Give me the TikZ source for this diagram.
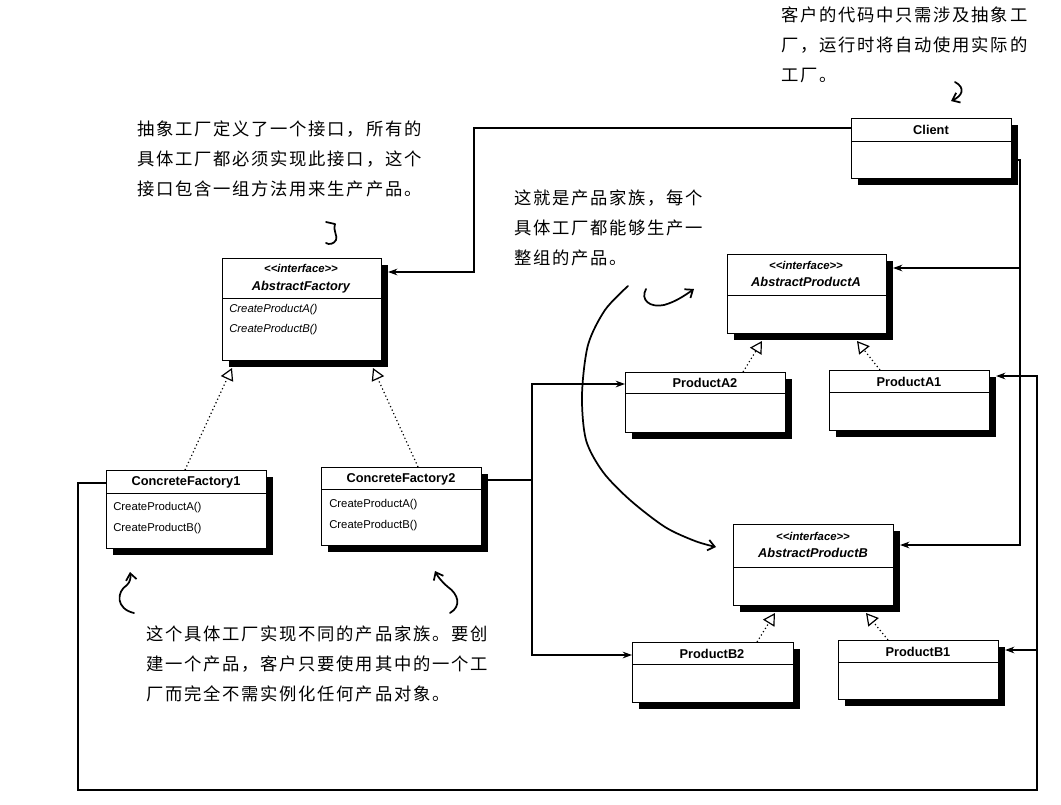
\documentclass[tikz,border=0pt]{standalone}
\usepackage{fontspec}
\setmainfont{Liberation Sans}
\newfontfamily\hw[LetterSpace=10]{Noto Sans CJK SC}
\usetikzlibrary{arrows.meta,shadows,calc}

\tikzset{
 umlbox/.style={draw, fill=white, line width=0.8pt, inner sep=0pt, anchor=north west,
   drop shadow={shadow xshift=4.5pt, shadow yshift=-4.5pt, fill=black, opacity=1}},
 divline/.style={line width=0.6pt},
 ttl/.style={font=\fontsize{9.6}{10}\selectfont\bfseries, inner sep=0pt},
 ittl/.style={font=\fontsize{9.6}{10}\selectfont\bfseries\itshape, inner sep=0pt},
 stereo/.style={font=\fontsize{8.5}{9}\selectfont\bfseries\itshape, inner sep=0pt},
 meth/.style={font=\fontsize{8.5}{9}\selectfont, inner sep=0pt, anchor=west},
 imeth/.style={font=\fontsize{8.5}{9}\selectfont\itshape, inner sep=0pt, anchor=west},
 arr/.style={line width=1pt, -{Stealth[length=7pt,width=5pt]}},
 conn/.style={line width=1pt},
 real/.style={line width=0.9pt, dotted, -{Triangle[length=9pt,width=10pt,fill=white]}},
 note/.style={font=\hw\fontsize{13}{22.5}\selectfont, align=left, anchor=north west, inner sep=0pt},
 hand/.style={line width=1.3pt, line cap=round, line join=round},
 handarr/.style={hand, -{Straight Barb[length=5pt,width=8pt]}},
}

\newcommand{\ubox}[6]{%
  \node[umlbox, minimum width=#4*0.75pt, minimum height=#5*0.75pt] (#1) at (#2,#3) {};
  \draw[divline] ([yshift=-#6*0.75pt]#1.north west) -- ([yshift=-#6*0.75pt]#1.north east);
}
\newcommand{\stereotxt}{<\kern0pt<interface>\kern0pt>}

\begin{document}
\begin{tikzpicture}[x=0.75pt,y=-0.75pt]
\useasboundingbox (0,0) rectangle (1061,804);

% ---------- boxes ----------
\ubox{client}{851}{118}{160}{60}{23}
\ubox{af}{222}{258}{159}{102}{40}
\ubox{apa}{727}{254}{159}{79}{41}
\ubox{pa2}{625}{372}{160}{60}{21}
\ubox{pa1}{829}{370}{160}{60}{22}
\ubox{cf1}{106}{470}{160}{78}{23}
\ubox{cf2}{321}{467}{160}{78}{22}
\ubox{apb}{733}{524}{160}{81}{43}
\ubox{pb2}{632}{642}{161}{60}{22}
\ubox{pb1}{838}{640}{160}{59}{22}

% ---------- box texts ----------
\node[ttl] (tclient) at (931,130) {Client};
\node[stereo] (saf) at (301,268) {\stereotxt};
\node[ittl] (taf) at (301,287) {AbstractFactory};
\node[imeth] (maf1) at (229,310) {CreateProductA()};
\node[imeth] (maf2) at (229,330) {CreateProductB()};
\node[stereo] (sapa) at (806,265) {\stereotxt};
\node[ittl] (tapa) at (806,282) {AbstractProductA};
\node[ttl] (tpa2) at (705,383) {ProductA2};
\node[ttl] (tpa1) at (909,382) {ProductA1};
\node[ttl] (tcf1) at (186,482) {ConcreteFactory1};
\node[meth] (mcf11) at (113,508) {CreateProductA()};
\node[meth] (mcf12) at (113,529) {CreateProductB()};
\node[ttl] (tcf2) at (401,479) {ConcreteFactory2};
\node[meth] (mcf21) at (329,505) {CreateProductA()};
\node[meth] (mcf22) at (329,526) {CreateProductB()};
\node[stereo] (sapb) at (813,536) {\stereotxt};
\node[ittl] (tapb) at (813,553) {AbstractProductB};
\node[ttl] (tpb2) at (712,654) {ProductB2};
\node[ttl] (tpb1) at (918,652) {ProductB1};

% ---------- shadow-edge coordinates ----------
\coordinate (afR) at ([xshift=4.5pt]af.east);
\coordinate (apaR) at ([xshift=4.5pt]apa.east);
\coordinate (apbR) at ([xshift=4.5pt]apb.east);
\coordinate (pa1R) at ([xshift=4.5pt]pa1.east);
\coordinate (pb1R) at ([xshift=4.5pt]pb1.east);
\coordinate (cf2R) at ([xshift=4.5pt]cf2.east);
\coordinate (clR) at ([xshift=4.5pt]client.east);

% ---------- association connectors ----------
\draw[arr] (client.west |- 0,128) -- (474,128) -- (474,272) -- (afR |- 0,272);
\coordinate (jc) at (1020,268);
\draw[arr] (clR |- 0,160) -- (1020,160) -- (1020,545) -- (apbR |- 0,545);
\draw[arr] (jc) -- (apaR |- jc);

\coordinate (jf) at (1037,650);
\draw[arr] (cf1.west |- 0,483) -- (78,483) -- (78,790) -- (1037,790) -- (1037,376) -- (pa1R |- 0,376);
\draw[arr] (jf) -- (pb1R |- jf);

\coordinate (jg) at (532,480);
\draw[conn] (cf2R |- jg) -- (jg);
\draw[arr] (jg) -- (532,384) -- (pa2.west |- 0,384);
\draw[arr] (jg) -- (532,655) -- (pb2.west |- 0,655);

% ---------- realization ----------
\draw[real] (cf1.north -| 185,0) -- (232,368);
\draw[real] (cf2.north -| 418,0) -- (373,368);
\draw[real] (pa2.north -| 743,0) -- (762,341);
\draw[real] (pa1.north -| 880,0) -- (857,341);
\draw[real] (pb2.north -| 757,0) -- (775,613);
\draw[real] (pb1.north -| 888,0) -- (866,613);

% ---------- notes ----------
\node[note] (n1) at (781,7) {客户的代码中只需涉及抽象工\\厂，运行时将自动使用实际的\\工厂。};
\node[note] (n2) at (137,121) {抽象工厂定义了一个接口，所有的\\具体工厂都必须实现此接口，这个\\接口包含一组方法用来生产产品。};
\node[note] (n3) at (514,190) {这就是产品家族，每个\\具体工厂都能够生产一\\整组的产品。};
\node[note] (n4) at (146,626) {这个具体工厂实现不同的产品家族。要创\\建一个产品，客户只要使用其中的一个工\\厂而完全不需实例化任何产品对象。};

% ---------- hand-drawn arrows ----------
\draw[handarr] (955,82) .. controls (966,88) and (962,96) .. (951,101);
\draw[hand] (326,222) -- (335,224) .. controls (333,232) and (338,236) .. (336,240) .. controls (334,244) and (329,245) .. (326,243);
\draw[handarr] (646,289) .. controls (640,300) and (650,308) .. (664,305) .. controls (675,302) and (684,296) .. (694,289);
\draw[handarr] plot[smooth] coordinates {(628,286) (605,310) (588,345) (582,395) (586,440) (603,472) (630,500) (665,527) (695,541) (716,547)};
\draw[handarr] (134,613) .. controls (116,609) and (116,592) .. (127,585) .. controls (130,582) and (131,578) .. (130,572);
\draw[handarr] (450,613) .. controls (462,606) and (458,594) .. (448,587) .. controls (442,582) and (438,577) .. (435,571);
\end{tikzpicture}
\end{document}
